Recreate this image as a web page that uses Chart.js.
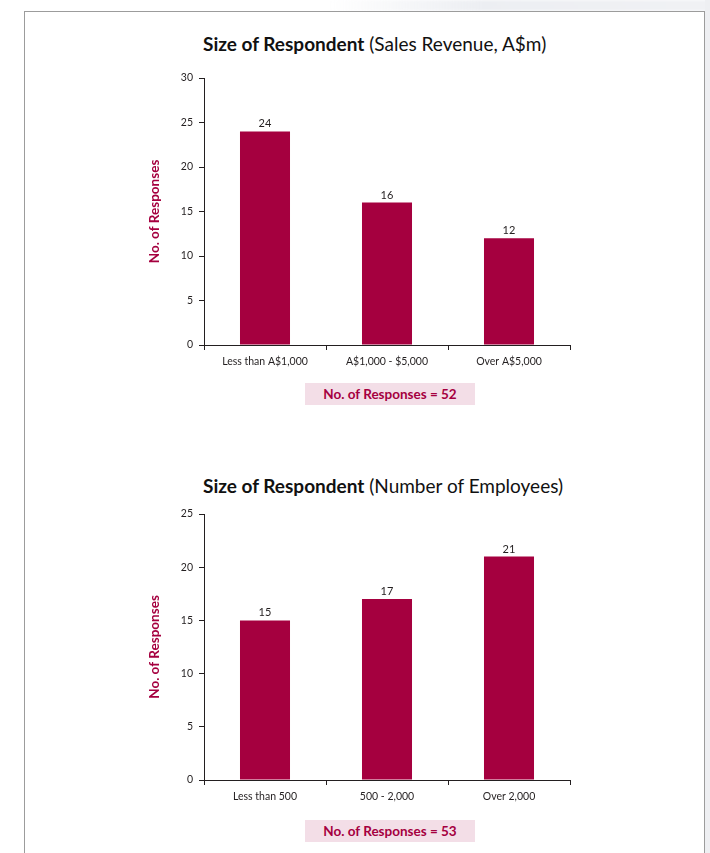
<!DOCTYPE html>
<html>
<head>
<meta charset="utf-8">
<script src="https://cdn.jsdelivr.net/npm/chart.js@4.4.1/dist/chart.umd.min.js"></script>
<style>
  html, body { margin: 0; padding: 0; background: #fff; }
  body { width: 710px; height: 853px; position: relative; overflow: hidden; font-family: Lato, 'Open Sans', sans-serif; }
  .folha { position: absolute; left: 24px; top: 11px; width: 679px; height: 860px; border: 1px solid #9c9c9c; border-bottom: none; background: #fff; }
  .sombra-topo { position: absolute; left: 330px; top: 0; width: 380px; height: 11px; background: linear-gradient(to right, rgba(235,238,242,0), #eceef2 40%, #f0f1f4); filter: blur(1.5px); }
  .sombra-lado { position: absolute; left: 705px; top: 0; width: 5px; height: 853px; background: #eeeff2; }
  .titulo { position: absolute; left: 203px; font-size: 19px; color: #111; white-space: nowrap; }
  .titulo b { font-weight: 700; }
  canvas { position: absolute; left: 130px; }
  .caixa { position: absolute; left: 305px; width: 170px; height: 22px; line-height: 22px; background: #f3dee7; color: #a5003f; font-weight: 700; font-size: 13.5px; text-align: center; }
</style>
</head>
<body>
<div class="sombra-topo"></div>
<div class="sombra-lado"></div>
<div class="folha"></div>

<div class="titulo" style="top: 32px;"><b>Size of Respondent</b> (Sales Revenue, A$m)</div>
<canvas id="graficoReceita" width="460" height="320" style="top: 60px;"></canvas>
<div class="caixa" id="caixaReceita" style="top: 383px;"></div>

<div class="titulo" style="top: 474px;"><b>Size of Respondent</b> (Number of Employees)</div>
<canvas id="graficoEmpregados" width="460" height="320" style="top: 500px;"></canvas>
<div class="caixa" id="caixaEmpregados" style="top: 820px;"></div>

<script>
// receita de vendas (A$m)
const categoriasReceita = ['Less than A$1,000', 'A$1,000 - $5,000', 'Over A$5,000'];
const respostasReceita = [24, 16, 12];
const maxReceita = 30;

// numero de empregados
const categoriasEmpregados = ['Less than 500', '500 - 2,000', 'Over 2,000'];
const respostasEmpregados = [15, 17, 21];
const maxEmpregados = 25;

const passoY = 5;
const corBarra = '#a5003f';
const corTexto = '#231f20';

// escreve o valor em cima de cada barra
const rotulosValores = {
    id: 'rotulosValores',
    afterDatasetsDraw(chart) {
        const ctx = chart.ctx;
        const valores = chart.data.datasets[0].data;
        ctx.save();
        ctx.font = '11px Lato';
        ctx.fillStyle = corTexto;
        ctx.textAlign = 'center';
        ctx.textBaseline = 'bottom';
        chart.getDatasetMeta(0).data.forEach((barra, i) => {
            ctx.fillText(String(valores[i]), barra.x, barra.y - 2);
        });
        ctx.restore();
    }
};

function criarGrafico(id, categorias, valores, maxY, topo, alturaX) {
    const canvas = document.getElementById(id);
    const ctx = canvas.getContext('2d');
    return new Chart(ctx, {
        type: 'bar',
        data: {
            labels: categorias,
            datasets: [{
                data: valores,
                backgroundColor: corBarra,
                borderWidth: 0,
                barPercentage: 0.41,
                categoryPercentage: 1,
            }],
        },
        options: {
            responsive: false,
            animation: false,
            devicePixelRatio: 1,
            layout: { padding: { top: topo, right: 20, left: 0, bottom: 0 } },
            plugins: {
                legend: { display: false },
                tooltip: { enabled: false },
            },
            scales: {
                x: {
                    afterFit: (escala) => { escala.height = alturaX; },
                    grid: { drawOnChartArea: false, tickLength: 5, color: corTexto, offset: true },
                    border: { color: corTexto, width: 1 },
                    ticks: { color: corTexto, font: { family: 'Lato', size: 10.5 }, padding: 5, maxRotation: 0 },
                },
                y: {
                    min: 0,
                    max: maxY,
                    afterFit: (escala) => { escala.width = 74; },
                    grid: { drawOnChartArea: false, tickLength: 5, color: corTexto },
                    border: { color: corTexto, width: 1 },
                    ticks: { stepSize: passoY, color: corTexto, font: { family: 'Lato', size: 10.5 }, padding: 6 },
                    title: {
                        display: true,
                        text: 'No. of Responses',
                        color: corBarra,
                        font: { family: 'Lato', size: 13.5, weight: 'bold' },
                        padding: { top: 17, bottom: 0 },
                    },
                },
            },
        },
        plugins: [rotulosValores],
    });
}

criarGrafico('graficoReceita', categoriasReceita, respostasReceita, maxReceita, 18, 35);
criarGrafico('graficoEmpregados', categoriasEmpregados, respostasEmpregados, maxEmpregados, 14, 40);

// total de respostas por grafico
const soma = (lista) => lista.reduce((a, b) => a + b, 0);
document.getElementById('caixaReceita').textContent = 'No. of Responses = ' + soma(respostasReceita);
document.getElementById('caixaEmpregados').textContent = 'No. of Responses = ' + soma(respostasEmpregados);
</script>
</body>
</html>
